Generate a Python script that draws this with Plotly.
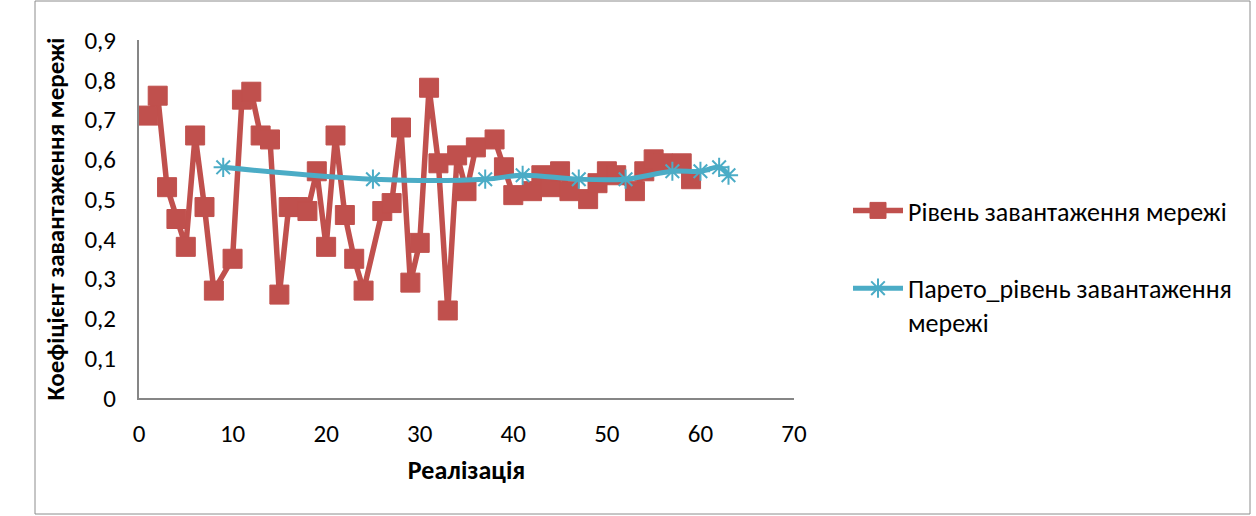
import plotly.graph_objects as go

# Red series: network load level (realisation index, value)
load_x = [1, 2, 3, 4, 5, 6, 7, 8, 10, 11, 12, 13, 14, 15, 16, 17, 18, 19, 20, 21,
          22, 23, 24, 26, 27, 28, 29, 30, 31, 32, 33, 34, 35, 36, 38, 39, 40, 42, 43, 44,
          45, 46, 48, 49, 50, 51, 53, 54, 55, 56, 58, 59]
load_y = [0.71, 0.76, 0.53, 0.45, 0.38, 0.66, 0.48, 0.27, 0.35, 0.75, 0.77, 0.66, 0.65, 0.26, 0.48, 0.48, 0.47, 0.57, 0.38, 0.66,
          0.46, 0.35, 0.27, 0.47, 0.49, 0.68, 0.29, 0.39, 0.78, 0.59, 0.22, 0.61, 0.52, 0.63, 0.65, 0.58, 0.51, 0.52, 0.56, 0.53,
          0.57, 0.52, 0.50, 0.54, 0.57, 0.56, 0.52, 0.57, 0.60, 0.59, 0.59, 0.55]

# Blue series: Pareto network load level
pareto_x = [9, 25, 37, 41, 47, 52, 57, 60, 62, 63]
pareto_y = [0.58, 0.55, 0.55, 0.56, 0.55, 0.55, 0.57, 0.57, 0.58, 0.56]

name_load = "Рівень завантаження мережі"
name_pareto = "Парето_рівень завантаження<br>мережі"
x_title = "Реалізація"
y_title = "Коефіцієнт завантаження мережі"

RED = "#C0504D"
BLUE = "#4BACC6"
FONT = "Calibri, Carlito, Liberation Sans, Arial, sans-serif"

fig = go.Figure()
fig.add_trace(go.Scatter(
    x=load_x, y=load_y, mode="lines+markers", name=name_load,
    legendgroup="a",
    line=dict(color=RED, width=5.5),
    marker=dict(symbol="square", size=19, color=RED, line=dict(color=RED, width=1)),
))
fig.add_trace(go.Scatter(
    x=pareto_x, y=pareto_y, mode="lines+markers", name=name_pareto,
    legendgroup="b",
    line=dict(color=BLUE, width=5, shape="spline", smoothing=1),
    marker=dict(symbol="asterisk-open", size=16, color=BLUE, line=dict(color=BLUE, width=2)),
))

L, R, T, B = 139, 462, 40, 118
W, H = 1256, 516
pw, ph = W - L - R, H - T - B

def px(xp):
    return (xp - L) / pw

def py(yp):
    return (H - B - yp) / ph

fig.update_layout(
    width=W, height=H,
    margin=dict(l=L, r=R, t=T, b=B),
    paper_bgcolor="white", plot_bgcolor="white",
    separators=", ",
    font=dict(family=FONT, size=24, color="#000000"),
    showlegend=True,
    legend=dict(
        x=px(848), y=py(187), xanchor="left", yanchor="top",
        font=dict(size=26, family=FONT), valign="top",
        tracegroupgap=41, traceorder="grouped", itemwidth=50,
        bgcolor="rgba(0,0,0,0)",
    ),
    xaxis=dict(
        range=[0, 70], dtick=10, tick0=0,
        showgrid=False, zeroline=False,
        showline=True, linecolor="#868686", linewidth=2,
        ticks="", ticklabelstandoff=12,
        tickfont=dict(size=25, family=FONT),
        title=dict(text="<b>" + x_title + "</b>", font=dict(size=26, family=FONT), standoff=13),
    ),
    yaxis=dict(
        range=[0, 0.9], dtick=0.1, tick0=0,
        showgrid=False, zeroline=False,
        showline=True, linecolor="#868686", linewidth=2,
        ticks="", ticklabelstandoff=16,
        tickfont=dict(size=25, family=FONT),
        title=dict(text="<b>" + y_title + "</b>", font=dict(size=25, family=FONT), standoff=13),
    ),
    shapes=[dict(
        type="rect", xref="paper", yref="paper",
        x0=px(35), x1=px(1250), y0=py(514), y1=py(1),
        line=dict(color="#8C8C8C", width=1), fillcolor="rgba(0,0,0,0)", layer="below",
    )],
)

fig.write_html("out.html")
